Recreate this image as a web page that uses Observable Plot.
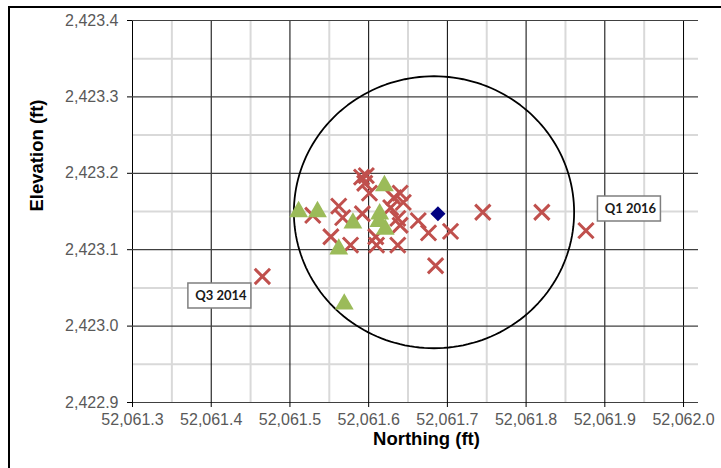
<!DOCTYPE html>
<html>
<head>
<meta charset="utf-8">
<script src="https://cdn.jsdelivr.net/npm/d3@7"></script>
<script src="https://cdn.jsdelivr.net/npm/@observablehq/plot@0.6"></script>
<style>
  html, body { margin: 0; padding: 0; background: #fff; overflow: hidden; }
  #wrap { position: relative; width: 721px; height: 468px; overflow: hidden; }
  #frame { position: absolute; left: 8px; top: 6px; width: 760px; height: 520px;
           border-left: 2px solid #000; border-top: 2px solid #000; box-sizing: border-box; }
  #chart { position: absolute; left: 0; top: 0; }
</style>
</head>
<body>
<div id="wrap"><div id="frame"></div><div id="chart"></div></div>
<script>
// Axis ticks
const xTicks = [52061.3, 52061.4, 52061.5, 52061.6, 52061.7, 52061.8, 52061.9, 52062.0];
const yTicks = [2422.9, 2423.0, 2423.1, 2423.2, 2423.3, 2423.4];

// Survey shots (red crosses), earliest (Q3 2014) first, latest (Q1 2016) last
const crossNorthing = [
  52061.465, 52061.529, 52061.562, 52061.567, 52061.552, 52061.577, 52061.591,
  52061.597, 52061.595, 52061.601, 52061.592, 52061.609, 52061.610, 52061.632,
  52061.640, 52061.644, 52061.628, 52061.637, 52061.640, 52061.637, 52061.663,
  52061.676, 52061.704, 52061.685, 52061.745, 52061.820, 52061.876
];
const crossElevation = [
  2423.065, 2423.145, 2423.157, 2423.142, 2423.117, 2423.106, 2423.195,
  2423.197, 2423.187, 2423.174, 2423.147, 2423.117, 2423.106, 2423.168,
  2423.174, 2423.162, 2423.155, 2423.141, 2423.132, 2423.106, 2423.138,
  2423.122, 2423.124, 2423.079, 2423.149, 2423.149, 2423.125
];

// Second set of shots (green triangles)
const triNorthing = [52061.511, 52061.535, 52061.580, 52061.620, 52061.614, 52061.621, 52061.613, 52061.562, 52061.569];
const triElevation = [2423.153, 2423.153, 2423.138, 2423.187, 2423.150, 2423.130, 2423.140, 2423.104, 2423.032];

// Baseline position (blue diamond)
const baseNorthing = [52061.688];
const baseElevation = [2423.147];

// Tolerance circle
const circleCenter = [52061.683, 2423.149];
const circleRadius = 0.178;

// Callout labels for the first and last crosses
const calloutLabels = ["Q3 2014", "Q1 2016"];

const crosses = crossNorthing.map((x, i) => ({x, y: crossElevation[i]}));
const triangles = triNorthing.map((x, i) => ({x, y: triElevation[i]}));
const base = baseNorthing.map((x, i) => ({x, y: baseElevation[i]}));
const circle = d3.range(0, 361, 2).map(a => ({
  x: circleCenter[0] + circleRadius * Math.cos(a * Math.PI / 180),
  y: circleCenter[1] + circleRadius * Math.sin(a * Math.PI / 180)
}));
const firstShot = [{label: calloutLabels[0], ...crosses[0]}];
const lastShot = [{label: calloutLabels[1], ...crosses[crosses.length - 1]}];

const mid = arr => arr.slice(1).map((v, i) => (v + arr[i]) / 2);
const xMinor = mid(xTicks);
const yMinor = mid(yTicks);

// Rectangular callout box drawn as a dot symbol
const boxSymbol = { draw(ctx) { ctx.rect(-31.5, -12.5, 63, 25); } };

// A boxed label offset from the shot it describes
function callout(data, dx, dy) {
  return [
    Plot.dot(data, {x: "x", y: "y", dx, dy, symbol: boxSymbol, fill: "#fff", stroke: "#7f7f7f", strokeWidth: 1.5}),
    Plot.text(data, {x: "x", y: "y", dx: dx + 1.5, dy, text: "label", fontFamily: "Lato, 'Open Sans', sans-serif",
                     fontWeight: "bold", fontSize: 13, fill: "#1a1a1a"})
  ];
}

const fmt = d3.format(",.1f");

const chart = Plot.plot({
  width: 721,
  height: 468,
  marginLeft: 132,
  marginRight: 23,
  marginTop: 20,
  marginBottom: 66,
  style: {fontFamily: "'Liberation Sans', Arial, sans-serif", background: "transparent", overflow: "visible"},
  x: {domain: [52061.3, 52062.019]},
  y: {domain: [2422.9, 2423.4]},
  marks: [
    Plot.ruleX(xMinor, {stroke: "#d9d9d9", strokeWidth: 2}),
    Plot.ruleY(yMinor, {stroke: "#d9d9d9", strokeWidth: 2}),
    Plot.ruleX(xTicks, {stroke: "#000", strokeWidth: 1}),
    Plot.ruleY(yTicks, {stroke: "#404040", strokeWidth: 1.2}),
    Plot.axisX(xTicks, {tickFormat: fmt, tickSize: 5, tickPadding: 6, fontSize: 16, fill: "#595959", stroke: "#000", label: null}),
    Plot.axisY(yTicks, {tickFormat: fmt, tickSize: 5, tickPadding: 9, fontSize: 16, fill: "#595959", stroke: "#000", label: null}),
    Plot.line(circle, {x: "x", y: "y", stroke: "#000", strokeWidth: 1.8}),
    Plot.dot(crosses, {x: "x", y: "y", symbol: "times", r: 7, stroke: "#c0504d", strokeWidth: 3}),
    Plot.dot(triangles, {x: "x", y: "y", symbol: "triangle", r: 7, fill: "#9bbb59", dy: 2.5}),
    Plot.dot(base, {x: "x", y: "y", symbol: "diamond2", r: 6.8, fill: "#000080"}),
    ...callout(firstShot, -43, 19),
    ...callout(lastShot, 43, -22),
    Plot.text(["Northing (ft)"], {frameAnchor: "bottom", dx: 11, dy: 42, fontSize: 18.5, fontWeight: "bold", fill: "#000"}),
    Plot.text(["Elevation (ft)"], {frameAnchor: "left", rotate: -90, dx: -95, fontSize: 18.5, fontWeight: "bold", fill: "#000"})
  ]
});

document.getElementById("chart").appendChild(chart);
</script>
</body>
</html>
